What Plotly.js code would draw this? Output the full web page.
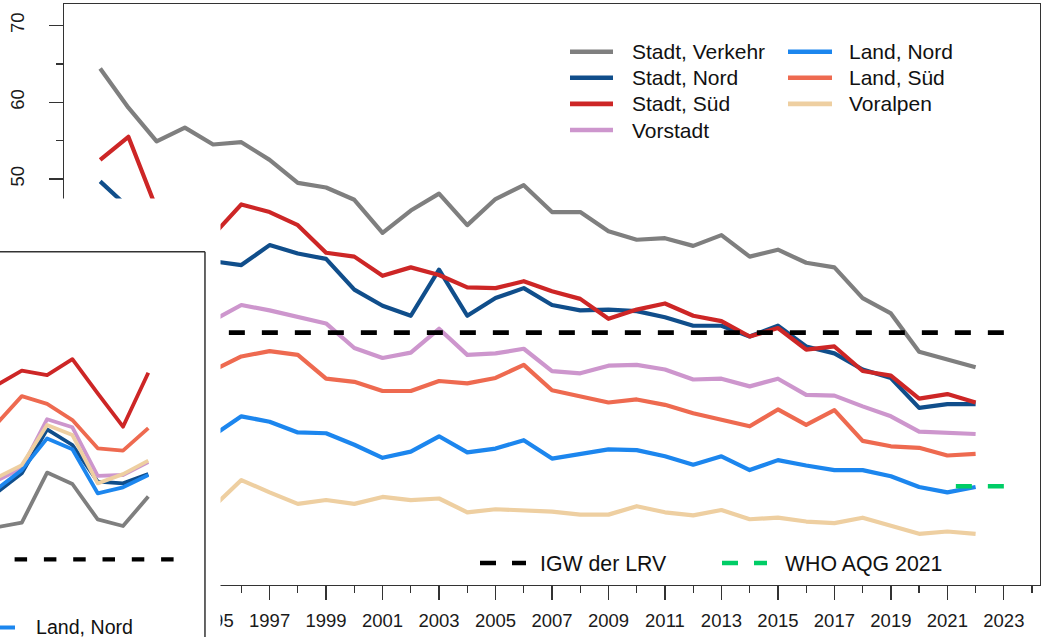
<!DOCTYPE html>
<html>
<head>
<meta charset="utf-8">
<script src="https://cdn.plot.ly/plotly-3.0.1.min.js"></script>
<style>
html,body{margin:0;padding:0;background:#ffffff;}
#chart{width:1046px;height:637px;}
.js-line{stroke-linejoin:round;}
</style>
</head>
<body>
<div id="chart"></div>
<script>
// ---------- main chart data (NO2 annual means, µg/m³) ----------
const years = [1991,1992,1993,1994,1995,1996,1997,1998,1999,2000,2001,2002,2003,2004,2005,2006,
               2007,2008,2009,2010,2011,2012,2013,2014,2015,2016,2017,2018,2019,2020,2021,2022];
const stadtVerkehr = [64.4,59.3,54.9,56.7,54.5,54.8,52.5,49.5,48.9,47.3,43.0,45.9,48.1,44.0,47.4,49.2,
                      45.7,45.7,43.2,42.1,42.3,41.3,42.7,39.9,40.8,39.1,38.5,34.5,32.5,27.5,26.5,25.5];
const stadtNord = [49.7,46.3,43.5,41.5,39.3,38.8,41.4,40.3,39.6,35.6,33.5,32.2,38.2,32.2,34.5,35.8,
                   33.6,32.9,33.0,32.8,32.0,30.9,30.9,29.5,30.9,28.2,27.3,25.2,24.1,20.2,20.7,20.7];
const stadtSued = [52.5,55.5,46.1,44.5,42.7,46.7,45.7,44.0,40.4,39.9,37.4,38.5,37.5,35.9,35.8,36.7,
                   35.4,34.4,31.8,33.0,33.8,32.2,31.5,29.5,30.6,27.8,28.2,25.0,24.4,21.4,22.0,20.9];
const vorstadt = [null,null,null,null,31.6,33.6,32.9,32.1,31.2,28.0,26.7,27.4,30.5,27.1,27.3,27.9,
                  25.0,24.7,25.7,25.8,25.2,23.9,24.0,23.0,24.0,21.9,21.8,20.4,19.1,17.1,17.0,16.8];
const landNord = [null,null,null,null,16.6,19.1,18.4,17.0,16.9,15.4,13.7,14.5,16.5,14.4,14.9,16.0,
                  13.6,14.2,14.8,14.7,13.9,12.8,13.9,12.1,13.4,12.7,12.1,12.1,11.3,9.9,9.2,9.9];
const landSued = [null,null,null,null,25.1,26.9,27.6,27.1,24.0,23.6,22.4,22.4,23.7,23.4,24.1,25.8,
                  22.5,21.7,20.9,21.3,20.6,19.5,18.7,17.8,20.0,18.0,19.9,15.9,15.2,15.0,14.0,14.2];
const voralpen = [null,null,null,null,7.3,10.8,9.2,7.7,8.2,7.7,8.6,8.2,8.4,6.6,7.0,6.9,
                  6.7,6.3,6.3,7.4,6.6,6.2,6.9,5.7,5.9,5.4,5.2,5.9,4.8,3.8,4.1,3.8];

// reference lines (end points)
const lrvYears = [2023, 1991];
const lrvValues = [30, 30];
const whoYears = [2023, 2021];
const whoValues = [10, 10];

// x tick labels (1991 and 1993 lie under the overlapping window)
const xTickVals = [1991,1993,1995,1997,1999,2001,2003,2005,2007,2009,2011,2013,2015,2017,2019,2021,2023];
const xTickText = ['','','1995','1997','1999','2001','2003','2005','2007','2009','2011','2013','2015','2017','2019','2021','2023'];

// ---------- overlapping second chart window (only its right part is visible) ----------
const insetYears = [2016,2017,2018,2019,2020,2021,2022];
const insetStadtVerkehr = [110.7,112.2,128.9,125.1,113.3,111.1,120.9];
const insetStadtNord    = [122.2,128.7,143.3,138.1,125.9,125.3,128.4];
const insetStadtSued    = [158.0,162.9,161.4,166.7,155.3,144.2,162.2];
const insetVorstadt     = [126.1,130.4,146.7,144.0,127.8,128.1,132.4];
const insetLandNord     = [123.3,129.8,140.3,136.7,122.0,124.0,128.1];
const insetLandSued     = [145.1,154.4,151.8,146.4,137.0,136.2,143.7];
const insetVoralpen     = [127.1,131.4,144.8,141.4,125.3,128.4,132.9];
const insetLrvYears = [2023, 1991];
const insetLrvValues = [100, 100];

// ---------- labels / colours ----------
const seriesNames  = ['Stadt, Verkehr','Stadt, Nord','Stadt, Süd','Vorstadt','Land, Nord','Land, Süd','Voralpen'];
const seriesColors = ['#7F7F7F','#104E8B','#CD2626','#CD96CD','#1C86EE','#EE6A50','#EECFA1'];
const mainSeries  = [stadtVerkehr, stadtNord, stadtSued, vorstadt, landNord, landSued, voralpen];
const insetSeries = [insetStadtVerkehr, insetStadtNord, insetStadtSued, insetVorstadt, insetLandNord, insetLandSued, insetVoralpen];
const lrvName = 'IGW der LRV';
const whoName = 'WHO AQG 2021';
const lrvColor = '#000000';
const whoColor = '#00CD66';

// ---------- layout helpers ----------
const W = 1046, H = 637;
const px = x => x / W;
const py = y => 1 - y / H;
const FONT = 'Liberation Sans, Arial, Helvetica, sans-serif';
const INK = '#111111';
const AXC = '#333333';

const traces = [];
// main chart
mainSeries.forEach((vals, i) => {
  traces.push({
    type: 'scatter', mode: 'lines', x: years, y: vals, name: seriesNames[i],
    xaxis: 'x', yaxis: 'y', line: {color: seriesColors[i], width: 4.2},
    connectgaps: false, showlegend: false, hoverinfo: 'skip'
  });
});
traces.push({type:'scatter', mode:'lines', x: lrvYears, y: lrvValues, name: lrvName,
  xaxis:'x', yaxis:'y', line:{color: lrvColor, width: 4.6, dash:'16px,17px'}, showlegend:false, hoverinfo:'skip'});
traces.push({type:'scatter', mode:'lines', x: whoYears, y: whoValues, name: whoName,
  xaxis:'x', yaxis:'y', line:{color: whoColor, width: 4.6, dash:'16px,16px'}, showlegend:false, hoverinfo:'skip'});
// second window
insetSeries.forEach((vals, i) => {
  traces.push({
    type: 'scatter', mode: 'lines', x: insetYears, y: vals, name: seriesNames[i],
    xaxis: 'x2', yaxis: 'y2', line: {color: seriesColors[i], width: 3.8},
    showlegend: false, hoverinfo: 'skip'
  });
});
traces.push({type:'scatter', mode:'lines', x: insetLrvYears, y: insetLrvValues, name: lrvName,
  xaxis:'x2', yaxis:'y2', line:{color: lrvColor, width: 4.2, dash:'12.5px,16.8px'}, showlegend:false, hoverinfo:'skip'});

// ---------- legends (keys + labels) ----------
const shapes = [];
const annotations = [];
const legCols = [{kx0:570, kx1:613, tx:632}, {kx0:788, kx1:832, tx:849}];
const legRows = 4;
seriesNames.forEach((nm, i) => {
  const col = legCols[Math.floor(i / legRows)];
  const yy = 51.7 + (i % legRows) * 26.1;
  shapes.push({type:'line', xref:'paper', yref:'paper', x0:px(col.kx0), x1:px(col.kx1), y0:py(yy), y1:py(yy),
    line:{color: seriesColors[i], width: 4.6}});
  annotations.push({xref:'paper', yref:'paper', x:px(col.tx), y:py(yy), xanchor:'left', yanchor:'middle',
    text: nm, showarrow:false, borderpad:0, borderwidth:0, font:{family:FONT, size:21, color:INK}});
});
// reference-line legend
[{nm:lrvName, c:lrvColor, kx0:480, kx1:526, tx:540}, {nm:whoName, c:whoColor, kx0:722, kx1:767, tx:785}].forEach(e => {
  const yy = 563;
  shapes.push({type:'line', xref:'paper', yref:'paper', x0:px(e.kx0), x1:px(e.kx1), y0:py(yy), y1:py(yy),
    line:{color:e.c, width:4.6, dash:'16px,16px'}});
  annotations.push({xref:'paper', yref:'paper', x:px(e.tx), y:py(yy+1), xanchor:'left', yanchor:'middle',
    text:e.nm, showarrow:false, borderpad:0, borderwidth:0, font:{family:FONT, size:21.3, color:INK}});
});
// legend of the second window (only "Land, Nord" is inside the picture)
shapes.push({type:'line', xref:'paper', yref:'paper', x0:px(-28), x1:px(15), y0:py(627.5), y1:py(627.5),
  line:{color: seriesColors[4], width: 4.2}});
annotations.push({xref:'paper', yref:'paper', x:px(36), y:py(626.5), xanchor:'left', yanchor:'middle',
  text: seriesNames[4], showarrow:false, borderpad:0, borderwidth:0, font:{family:FONT, size:19.6, color:INK}});

// frame of the second window (top and right edges)
shapes.push({type:'line', xref:'x2', yref:'y2', x0:2010, x1:2024.24, y0:202.53, y1:202.53, layer:'above',
  line:{color:AXC, width:1.5}});
shapes.push({type:'line', xref:'x2', yref:'y2', x0:2024.24, x1:2024.24, y0:60, y1:202.53, layer:'above',
  line:{color:AXC, width:1.5}});

const layout = {
  width: W, height: H,
  margin: {l:0, r:0, t:0, b:0, pad:0},
  paper_bgcolor: '#ffffff', plot_bgcolor: '#ffffff',
  showlegend: false,
  font: {family: FONT, color: INK},
  xaxis: {
    domain: [px(64), px(1040)], range: [1989.72, 2024.28],
    tickmode: 'array', tickvals: xTickVals, ticktext: xTickText, tickangle: 0,
    ticks: 'outside', ticklen: 14, tickwidth: 1.3, tickcolor: AXC,
    minor: {tickmode: 'linear', tick0: 1991, dtick: 1, ticks: 'outside', ticklen: 7, tickwidth: 1.3, tickcolor: AXC, showgrid: false},
    showline: true, linecolor: AXC, linewidth: 1.3, mirror: true,
    showgrid: false, zeroline: false, ticklabelstandoff: 5,
    tickfont: {family: FONT, size: 18.5, color: '#1a1a1a'}
  },
  yaxis: {
    domain: [py(584.5), py(4)], range: [-2.8, 72.8],
    tickmode: 'linear', tick0: 0, dtick: 10, tickangle: -90,
    ticks: 'outside', ticklen: 14, tickwidth: 1.3, tickcolor: AXC,
    minor: {dtick: 5, ticks: 'outside', ticklen: 7, tickwidth: 1.3, tickcolor: AXC, showgrid: false},
    showline: true, linecolor: AXC, linewidth: 1.3, mirror: true,
    showgrid: false, zeroline: false, ticklabelstandoff: 17,
    tickfont: {family: FONT, size: 18.5, color: '#1a1a1a'}
  },
  xaxis2: {domain: [0, px(220.5)], range: [2016.138, 2024.854], anchor: 'y2', visible: false, fixedrange: true},
  yaxis2: {domain: [0, py(198.5)], range: [74.1, 220.27], anchor: 'x2', visible: false, fixedrange: true},
  shapes: shapes,
  annotations: annotations
};

Plotly.newPlot('chart', traces, layout, {staticPlot: true, displayModeBar: false});
</script>
</body>
</html>
